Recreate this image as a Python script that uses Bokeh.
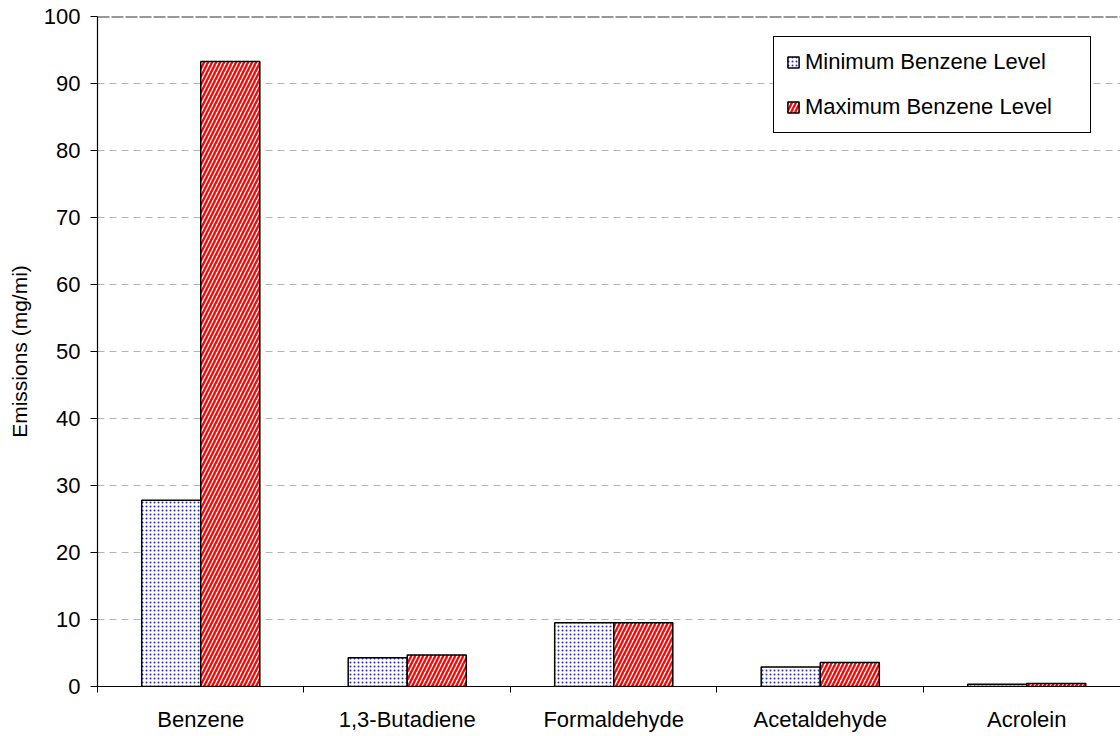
from bokeh.plotting import figure
from bokeh.models import ColumnDataSource, Range1d, FixedTicker, Legend, LegendItem, Span
from bokeh.embed import file_html
from bokeh.resources import INLINE

categories = ["Benzene", "1,3-Butadiene", "Formaldehyde", "Acetaldehyde", "Acrolein"]
min_level = [27.8, 4.3, 9.5, 2.9, 0.35]
max_level = [93.3, 4.7, 9.5, 3.6, 0.45]
y_ticks = [0, 10, 20, 30, 40, 50, 60, 70, 80, 90, 100]
series_names = ["Minimum Benzene Level", "Maximum Benzene Level"]

n = len(categories)
centers = [i + 0.5 for i in range(n)]
bar_w = 0.286

src = ColumnDataSource(dict(
    xmin=[c - bar_w / 2 for c in centers],
    xmax=[c + bar_w / 2 for c in centers],
    vmin=min_level, vmax=max_level,
))

FONT = "Liberation Sans"
FS = "22px"

p = figure(width=1120, height=736, output_backend="svg", toolbar_location=None,
           x_range=Range1d(0, 4.954), y_range=Range1d(0, 100),
           min_border_left=97, min_border_right=0, min_border_top=16, min_border_bottom=50)
p.outline_line_color = None
p.background_fill_color = "white"
p.border_fill_color = "white"

r1 = p.vbar(x="xmin", top="vmin", width=bar_w, bottom=0, source=src,
            fill_color="white", line_color="black", line_width=1.5,
            hatch_pattern="dot", hatch_color="#2a2acc", hatch_scale=4, hatch_weight=1.6)
r2 = p.vbar(x="xmax", top="vmax", width=bar_w, bottom=0, source=src,
            fill_color="white", line_color="black", line_width=1.5,
            hatch_pattern="right_diagonal_line", hatch_color="#ff0000", hatch_scale=8, hatch_weight=2.3)

# x axis
p.xaxis.ticker = FixedTicker(ticks=centers, minor_ticks=[0, 1, 2, 3, 4, 5])
p.xaxis.major_label_overrides = {c: lab for c, lab in zip(centers, categories)}
p.xaxis.major_tick_out = 0
p.xaxis.major_tick_in = 0
p.xaxis.minor_tick_out = 6
p.xaxis.minor_tick_in = 0
p.xaxis.minor_tick_line_color = "black"
p.xaxis.axis_line_color = "black"
p.xaxis.axis_line_width = 1.2
p.xaxis.major_label_text_font = FONT
p.xaxis.major_label_text_font_size = FS
p.xaxis.major_label_text_color = "black"
p.xaxis.major_label_standoff = 14

# y axis
p.yaxis.ticker = FixedTicker(ticks=y_ticks)
p.yaxis.minor_tick_line_color = None
p.yaxis.major_tick_out = 7
p.yaxis.major_tick_in = 0
p.yaxis.major_tick_line_color = "black"
p.yaxis.axis_line_color = "black"
p.yaxis.axis_line_width = 1.2
p.yaxis.major_label_text_font = FONT
p.yaxis.major_label_text_font_size = FS
p.yaxis.major_label_text_color = "black"
p.yaxis.major_label_standoff = 10
p.yaxis.axis_label = "Emissions (mg/mi)"
p.yaxis.axis_label_text_font = FONT
p.yaxis.axis_label_text_font_size = "21px"
p.yaxis.axis_label_text_font_style = "normal"
p.yaxis.axis_label_text_color = "black"
p.yaxis.axis_label_standoff = 10

p.xgrid.grid_line_color = None
p.ygrid.grid_line_color = "#b4b4b4"
p.ygrid.grid_line_dash = "7 5"
p.ygrid.grid_line_width = 1

top_line = Span(location=y_ticks[-1], dimension="width", line_color="#333333",
                line_dash="12 2", line_width=2)
p.add_layout(top_line)

legend = Legend(items=[LegendItem(label=series_names[0], renderers=[r1]),
                       LegendItem(label=series_names[1], renderers=[r2])],
                location=(676, 553))
legend.border_line_color = "black"
legend.border_line_alpha = 1
legend.border_line_width = 1.2
legend.background_fill_color = "white"
legend.background_fill_alpha = 1
legend.label_text_font = FONT
legend.label_text_font_size = FS
legend.label_text_color = "black"
legend.glyph_width = 14
legend.glyph_height = 14
legend.label_standoff = 5
legend.padding = 12
legend.spacing = 19
legend.label_height = 25
legend.label_width = 273
legend.margin = 0
p.add_layout(legend, "center")

open("out.html", "w").write(file_html(p, INLINE))
